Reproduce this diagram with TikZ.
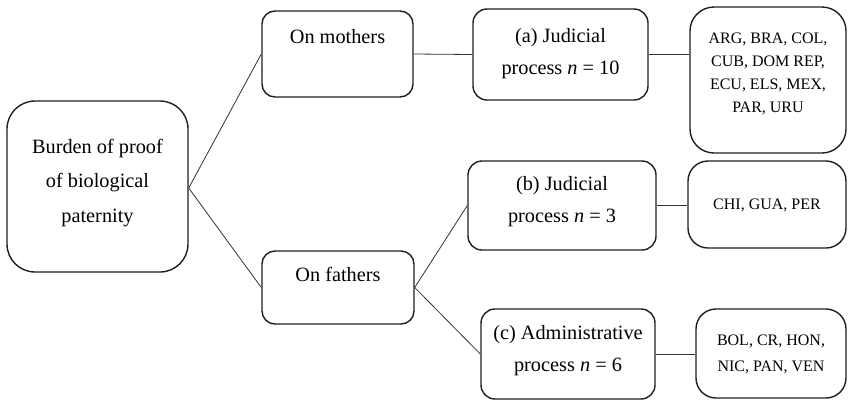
\documentclass[tikz,border=0pt]{standalone}
\usepackage{fontspec}
\setmainfont{Liberation Serif}
\begin{document}
\begin{tikzpicture}[x=1pt,y=-1pt,
  box/.style={draw=black!88,line width=1.4pt,rounded corners=#1,inner sep=0pt},
  box/.default=13pt,
  conn/.style={draw=black!80,line width=0.8pt},
  big/.style={font=\fontsize{20.3}{32}\selectfont,align=center,anchor=base,inner sep=0pt},
  small/.style={font=\fontsize{16}{22.7}\selectfont,align=center,anchor=base,inner sep=0pt}]
\useasboundingbox (0,0) rectangle (848,400);
% boxes: centre and size from pixel extents
\node[box=28pt,minimum width=181pt,minimum height=171pt] (burden) at (97.5,186.5) {};
\node[box,minimum width=151pt,minimum height=86pt] (mothers) at (337.5,54) {};
\node[box,minimum width=152pt,minimum height=73pt] (fathers) at (338,287.5) {};
\node[box=14pt,minimum width=175pt,minimum height=91pt] (ja) at (560.5,54.5) {};
\node[box=14pt,minimum width=188pt,minimum height=89pt] (jb) at (562,205.5) {};
\node[box=14pt,minimum width=174pt,minimum height=90pt] (jc) at (568,354) {};
\node[box=24pt,minimum width=156pt,minimum height=146pt] (ca) at (768,80) {};
\node[box=20pt,minimum width=158pt,minimum height=87pt] (cb) at (767,204.5) {};
\node[box=20pt,minimum width=150pt,minimum height=89pt] (cc) at (771,353.5) {};
% texts (base anchor = baseline of the last line)
\node[big,font=\fontsize{20.3}{34.5}\selectfont] (tburden) at (97.5,222) {Burden of proof\\of biological\\paternity};
\node[big] (tmothers) at (337.5,43) {On mothers};
\node[big] (tfathers) at (338,281) {On fathers};
\node[big] (tja) at (560.5,74) {(a) Judicial\\process \textit{n} = 10};
\node[big] (tjb) at (562,222) {(b) Judicial\\process \textit{n} = 3};
\node[big] (tjc) at (568,371) {(c) Administrative\\process \textit{n} = 6};
\node[small] (tca) at (768,112) {ARG, BRA, COL,\\CUB, DOM REP,\\ECU, ELS, MEX,\\PAR, URU};
\node[small] (tcb) at (767,209) {CHI, GUA, PER};
\node[small,font=\fontsize{16}{25.5}\selectfont] (tcc) at (771,371) {BOL, CR, HON,\\NIC, PAN, VEN};
% connectors
\coordinate (bj) at ([yshift=-1.5pt]burden.east);
\draw[conn] (bj) -- (mothers.west);
\draw[conn] (bj) -- (fathers.west);
\draw[conn] (mothers.east) -- (ja.west);
\draw[conn] (ja.east) -- (ca.west |- ja.east);
\draw[conn] (fathers.east) -- (jb.west);
\draw[conn] (fathers.east) -- (jc.west);
\draw[conn] (jb.east) -- (cb.west |- jb.east);
\draw[conn] (jc.east) -- (cc.west |- jc.east);
\end{tikzpicture}
\end{document}
